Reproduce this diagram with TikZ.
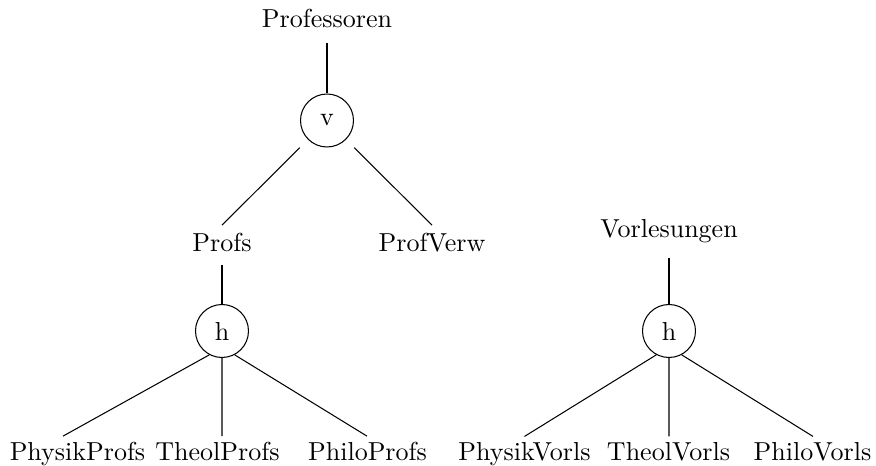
\documentclass[tikz,border=0pt]{standalone}
\begin{document}
\begin{tikzpicture}[x=0.3846pt,y=-0.3846pt,
  lbl/.style={anchor=base,inner sep=0pt},
  op/.style={draw,circle,minimum size=20.38pt,inner sep=0pt},
  conn/.style={draw,line width=0.4pt}]
\useasboundingbox (0,0) rectangle (876,466);
% nodes
\node[lbl] (prof) at (327,28) {Professoren};
\node[op] (v) at (327,120.5) {v};
\node[lbl] (profs) at (222,252) {Profs};
\node[lbl] (profverw) at (432,252) {ProfVerw};
\node[op] (h1) at (222,331) {h};
\node[lbl] (physikprofs) at (77.5,461) {PhysikProfs};
\node[lbl] (theolprofs) at (217.5,461) {TheolProfs};
\node[lbl] (philoprofs) at (367.5,461) {PhiloProfs};
\node[lbl] (vorl) at (669,238) {Vorlesungen};
\node[op] (h2) at (669,331) {h};
\node[lbl] (physikvorls) at (524.5,461) {PhysikVorls};
\node[lbl] (theolvorls) at (668.5,461) {TheolVorls};
\node[lbl] (philovorls) at (812.5,461) {PhiloVorls};
% connectors
\draw[conn,shorten <=5.4pt] (prof.south) -- (v.north);
\draw[conn,shorten <=4.4pt] (v) -- ([shift={(0,-8)}]profs.north);
\draw[conn,shorten <=4.4pt] (v) -- ([shift={(0,-8)}]profverw.north);
\draw[conn,shorten <=4.6pt] (profs.south) -- (h1.north);
\draw[conn] (h1.242) -- ([shift={(-14.5,-6)}]physikprofs.north);
\draw[conn] (h1.south) -- ([shift={(4.5,-6)}]theolprofs.north);
\draw[conn] (h1.298) -- ([shift={(-0.5,-6)}]philoprofs.north);
\draw[conn,shorten <=5.4pt] (vorl.south) -- (h2.north);
\draw[conn] (h2.242) -- ([shift={(0,-6)}]physikvorls.north);
\draw[conn] (h2.south) -- ([shift={(0.5,-6)}]theolvorls.north);
\draw[conn] (h2.298) -- ([shift={(0.5,-6)}]philovorls.north);
\end{tikzpicture}
\end{document}
